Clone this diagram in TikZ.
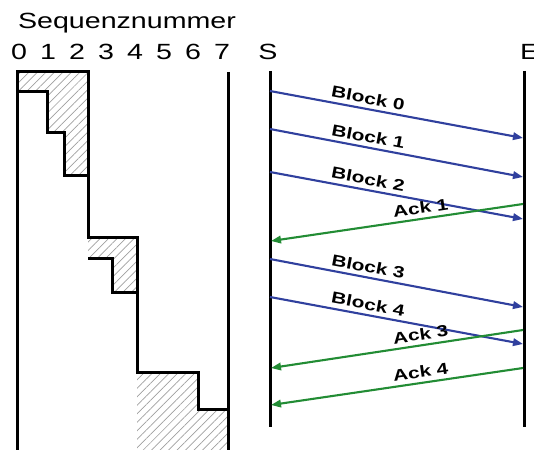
\documentclass[tikz,border=0pt]{standalone}
\usepackage{fontspec}
\setmainfont{Liberation Sans}
\newfontfamily\widefont[FakeStretch=1.3]{Liberation Sans}
\usepackage{xcolor}
\usetikzlibrary{arrows.meta,patterns.meta,positioning,calc}

\definecolor{blkblue}{RGB}{48,64,158}
\definecolor{ackgreen}{RGB}{34,140,52}

\begin{document}
\begin{tikzpicture}[x=1pt,y=-1pt,
    axis/.style={line width=3pt},
    hatch/.style={pattern={Lines[angle=45,distance=6pt,line width=0.7pt]}, pattern color=gray!75},
    blk/.style={draw=blkblue, line width=2.1pt, -{Triangle[length=10pt,width=7.5pt]}},
    ack/.style={draw=ackgreen, line width=2.1pt, -{Triangle[length=10pt,width=7.5pt]}},
    lbl/.style={font=\widefont\bfseries\fontsize{16}{18}\selectfont, sloped, above, inner sep=4pt},
    head/.style={font=\widefont\fontsize{22}{26}\selectfont, anchor=base, inner sep=0pt}
]
    \useasboundingbox (0,0) rectangle (534,449);

    % Sequence numbers
    \node[head] (title) at (127,29) {Sequenznummer};
    \foreach \i in {0,...,7}
        \node[head] (n\i) at (19+29*\i,60) {\i};

    % Windows (hatched)
    \fill[hatch] (17,72) -- (88,72) -- (88,175) -- (64,175) -- (64,133) -- (47,133) -- (47,92) -- (17,92) -- cycle;
    \fill[hatch] (88,237) -- (137,237) -- (137,292) -- (112,292) -- (112,258) -- (88,258) -- cycle;
    \fill[hatch] (137,372) -- (198,372) -- (198,409) -- (228,409) -- (228,455) -- (137,455) -- cycle;

    % Outline
    \draw[axis] (17,455) -- (17,72) -- (88,72) -- (88,237) -- (137,237) -- (137,372) -- (198,372) -- (198,409) -- (228,409);
    \draw[axis] (228,72) -- (228,455);
    \draw[axis] (17,92) -- (47,92) -- (47,133) -- (64,133) -- (64,175) -- (88,175);
    \draw[axis] (88,258) -- (112,258) -- (112,292) -- (137,292);

    % Sender and receiver
    \node[head] (S) at (268,60) {S};
    \node[head, anchor=base west] (E) at (520,60) {E};
    \coordinate (Stop) at (270,71);
    \coordinate (Sbot) at (270,427);
    \coordinate (Etop) at (524,71);
    \coordinate (Ebot) at (524,427);
    \draw[axis] (Stop) -- (Sbot);
    \draw[axis] (Etop) -- (Ebot);

    % Blocks
    \coordinate (s0) at (270,91);  \coordinate (e0) at (523,138);
    \coordinate (s1) at (270,129); \coordinate (e1) at (523,177);
    \coordinate (s2) at (270,172); \coordinate (e2) at (523,219);
    \coordinate (s3) at (270,259); \coordinate (e3) at (523,307);
    \coordinate (s4) at (270,297); \coordinate (e4) at (523,344);
    \draw[blk] (s0) -- node[lbl, pos=0.38] {Block 0} (e0);
    \draw[blk] (s1) -- node[lbl, pos=0.38] {Block 1} (e1);
    \draw[blk] (s2) -- node[lbl, pos=0.38] {Block 2} (e2);
    \draw[blk] (s3) -- node[lbl, pos=0.38] {Block 3} (e3);
    \draw[blk] (s4) -- node[lbl, pos=0.38] {Block 4} (e4);

    % Acks
    \coordinate (a1) at (523,204); \coordinate (r1) at (271,241);
    \coordinate (a3) at (523,330); \coordinate (r3) at (271,368);
    \coordinate (a4) at (523,368); \coordinate (r4) at (271,405);
    \draw[ack] (a1) -- node[lbl, pos=0.40] {Ack 1} (r1);
    \draw[ack] (a3) -- node[lbl, pos=0.40] {Ack 3} (r3);
    \draw[ack] (a4) -- node[lbl, pos=0.40] {Ack 4} (r4);
\end{tikzpicture}
\end{document}
